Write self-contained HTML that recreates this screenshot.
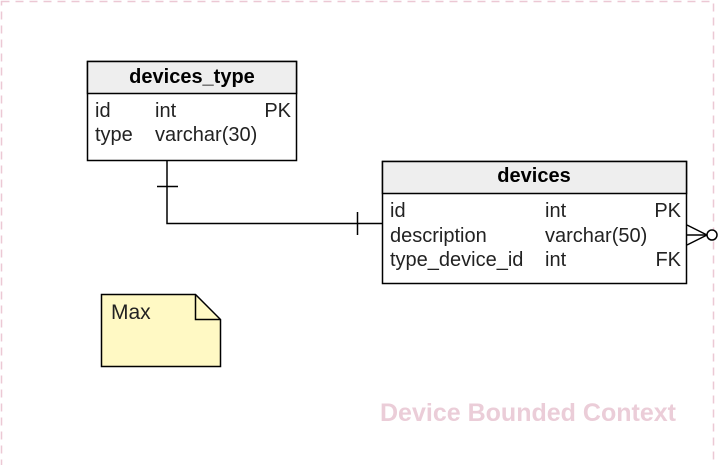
<!DOCTYPE html>
<html><head><style>body{margin:0;background:#fff}svg{display:block}</style></head><body>
<svg width="718" height="465" xmlns="http://www.w3.org/2000/svg" font-family="Liberation Sans, sans-serif">
<rect x="1.5" y="1.5" width="712" height="480" fill="none" stroke="#ecc8d4" stroke-width="1.5" stroke-dasharray="8,6"/>
<text x="676" y="421" text-anchor="end" font-size="25" font-weight="bold" fill="#ebcdd8" textLength="296" lengthAdjust="spacingAndGlyphs">Device Bounded Context</text>
<!-- devices_type -->
<rect x="87.5" y="61.5" width="209" height="99" fill="#fff" stroke="#000" stroke-width="1.5"/>
<rect x="87.5" y="61.5" width="209" height="32" fill="#eeeeee" stroke="#000" stroke-width="1.5"/>
<text x="192" y="83" text-anchor="middle" font-size="20" font-weight="bold">devices_type</text>
<g font-size="20" fill="#222">
<text x="95" y="117">id</text><text x="155" y="117">int</text><text x="291" y="117" text-anchor="end">PK</text>
<text x="95" y="141">type</text><text x="155" y="141">varchar(30)</text>
</g>
<!-- devices -->
<rect x="382.5" y="161.5" width="304" height="122" fill="#fff" stroke="#000" stroke-width="1.5"/>
<rect x="382.5" y="161.5" width="304" height="32" fill="#eeeeee" stroke="#000" stroke-width="1.5"/>
<text x="534" y="182" text-anchor="middle" font-size="20" font-weight="bold">devices</text>
<g font-size="20" fill="#222">
<text x="390" y="217">id</text><text x="545" y="217">int</text><text x="681" y="217" text-anchor="end">PK</text>
<text x="390" y="242">description</text><text x="545" y="242">varchar(50)</text>
<text x="390" y="266">type_device_id</text><text x="545" y="266">int</text><text x="681" y="266" text-anchor="end">FK</text>
</g>
<!-- connector -->
<g stroke="#000" stroke-width="1.5" fill="none">
<polyline points="167,161 167,223.5 382,223.5"/>
<line x1="157" y1="186.5" x2="178" y2="186.5"/>
<line x1="357.5" y1="212" x2="357.5" y2="235"/>
<line x1="687" y1="235" x2="707" y2="235"/>
<line x1="687" y1="225" x2="707" y2="235"/>
<line x1="687" y1="245" x2="707" y2="235"/>
<circle cx="712" cy="235" r="5" fill="#fff"/>
</g>
<!-- note -->
<path d="M101.5,294.5 H195.5 L220.5,319.5 V366.5 H101.5 Z" fill="#fff9c4" stroke="#000" stroke-width="1.5"/>
<path d="M195.5,294.5 V319.5 H220.5" fill="none" stroke="#000" stroke-width="1.5"/>
<text x="111" y="319" font-size="21" fill="#222">Max</text>
</svg>
</body></html>
